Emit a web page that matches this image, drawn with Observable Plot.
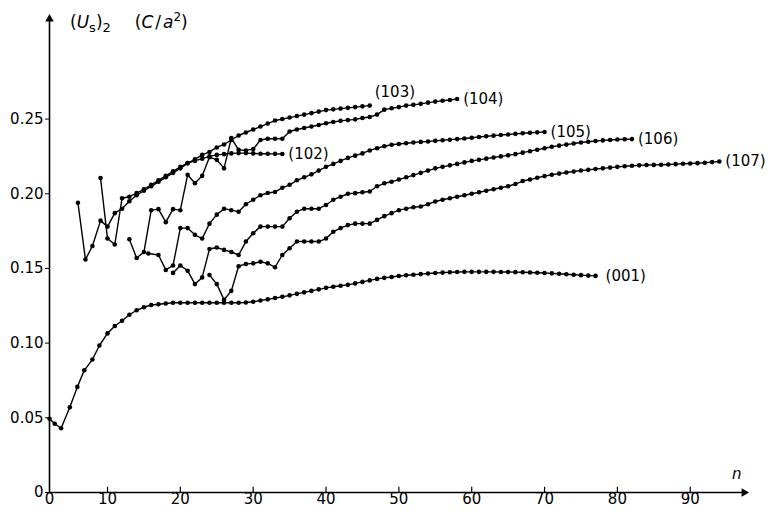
<!DOCTYPE html>
<html>
<head>
<meta charset="utf-8">
<script src="https://cdn.jsdelivr.net/npm/d3@7"></script>
<script src="https://cdn.jsdelivr.net/npm/@observablehq/plot@0.6"></script>
<style>
  html, body { margin: 0; padding: 0; background: #fff; }
  #chart svg { display: block; }
</style>
</head>
<body>
<div id="chart"></div>
<script>
// ---- data (n, (Us)2) ----
const s001 = [[0,0.0494],[0.9,0.046],[2,0.043],[3.5,0.057],[4.8,0.0707],[6,0.0818],[7.4,0.089],[8.6,0.0984],[10,0.1065],[11,0.1115],[12,0.115],[13,0.119],[14,0.122],[15,0.124],[16,0.1255],[17,0.126],[18,0.1265],[19,0.127],[20,0.127],[21,0.127],[22,0.127],[23,0.127],[24,0.127],[25,0.127],[26,0.127],[27,0.127],[28,0.127],[29,0.1272],[30,0.1277],[31,0.1285],[32,0.1293],[33,0.1302],[34,0.131],[35,0.132],[36,0.133],[37,0.134],[38,0.135],[39,0.136],[40,0.137],[41,0.1377],[42,0.1384],[43,0.139],[44,0.140],[45,0.141],[46,0.142],[47,0.143],[48,0.1437],[49,0.1443],[50,0.1449],[51,0.1454],[52,0.1458],[53,0.1462],[54,0.1466],[55,0.1469],[56,0.1472],[57,0.1474],[58,0.1476],[59,0.1477],[60,0.1477],[61,0.1477],[62,0.1477],[63,0.1477],[64,0.1476],[65,0.1476],[66,0.1475],[67,0.1474],[68,0.1473],[69,0.1471],[70,0.1469],[71,0.1467],[72,0.1464],[73,0.1461],[74,0.1458],[75,0.1455],[76,0.1452],[77,0.145]];
const s102 = [[4.9,0.194],[6.2,0.156],[7.4,0.165],[8.8,0.182],[10,0.178],[11,0.187],[12,0.190],[13,0.195],[14,0.199],[15,0.202],[16,0.205],[17,0.208],[18,0.211],[19,0.214],[20,0.217],[21,0.2205],[22,0.222],[23,0.2235],[24,0.225],[25,0.226],[26,0.2265],[27,0.227],[28,0.2272],[29,0.2272],[30,0.2270],[31,0.2268],[32,0.2268],[33,0.2267],[34,0.2266]];
const s103 = [[8.8,0.2105],[10,0.170],[11,0.166],[12,0.197],[13,0.198],[14,0.2005],[15,0.203],[16,0.206],[17,0.209],[18,0.212],[19,0.215],[20,0.218],[21,0.2205],[22,0.223],[23,0.226],[24,0.228],[25,0.231],[26,0.233],[27,0.236],[28,0.239],[29,0.241],[30,0.243],[31,0.245],[32,0.247],[33,0.249],[34,0.250],[35,0.251],[36,0.252],[37,0.253],[38,0.254],[39,0.255],[40,0.256],[41,0.2565],[42,0.257],[43,0.2575],[44,0.258],[45,0.2585],[46,0.259]];
const s104 = [[13,0.1695],[14,0.157],[15,0.161],[16,0.189],[17,0.1897],[18,0.181],[19,0.1897],[20,0.189],[21,0.2127],[22,0.207],[23,0.212],[24,0.2245],[25,0.2227],[26,0.217],[27,0.2373],[28,0.2294],[29,0.229],[30,0.2299],[31,0.236],[32,0.2368],[33,0.2368],[34,0.2368],[35,0.2417],[36,0.243],[37,0.244],[38,0.245],[39,0.246],[40,0.2472],[41,0.248],[42,0.2488],[43,0.2493],[44,0.2498],[45,0.2507],[46,0.2514],[47,0.253],[48,0.2563],[49,0.2572],[50,0.258],[51,0.259],[52,0.2595],[53,0.2602],[54,0.261],[55,0.2617],[56,0.2623],[57,0.2628],[58,0.2634]];
const s105 = [[15.6,0.160],[17,0.159],[18,0.149],[19,0.152],[20,0.177],[21,0.177],[22,0.1725],[23,0.170],[24,0.180],[25,0.186],[26,0.190],[27,0.189],[28,0.188],[29,0.193],[30,0.196],[31,0.199],[32,0.2005],[33,0.2012],[34,0.204],[35,0.206],[36,0.209],[37,0.211],[38,0.213],[39,0.2155],[40,0.218],[41,0.220],[42,0.222],[43,0.224],[44,0.2255],[45,0.227],[46,0.229],[47,0.2305],[48,0.2318],[49,0.2328],[50,0.2333],[51,0.2338],[52,0.2343],[53,0.2347],[54,0.235],[55,0.2354],[56,0.2358],[57,0.2362],[58,0.2366],[59,0.237],[60,0.2375],[61,0.238],[62,0.2385],[63,0.2389],[64,0.2393],[65,0.2397],[66,0.2401],[67,0.2405],[68,0.2408],[69,0.2411],[70,0.2413]];
const s106 = [[19,0.147],[20,0.152],[21,0.1485],[22,0.1395],[23,0.144],[24,0.163],[25,0.164],[26,0.1624],[27,0.161],[28,0.159],[29,0.168],[30,0.1736],[31,0.178],[32,0.178],[33,0.178],[34,0.178],[35,0.1836],[36,0.188],[37,0.190],[38,0.190],[39,0.190],[40,0.1925],[41,0.196],[42,0.198],[43,0.200],[44,0.2004],[45,0.201],[46,0.2015],[47,0.205],[48,0.207],[49,0.208],[50,0.2095],[51,0.211],[52,0.2125],[53,0.214],[54,0.2155],[55,0.217],[56,0.218],[57,0.219],[58,0.220],[59,0.221],[60,0.222],[61,0.2227],[62,0.2235],[63,0.2243],[64,0.225],[65,0.2257],[66,0.2265],[67,0.2275],[68,0.2285],[69,0.2295],[70,0.2305],[71,0.2315],[72,0.2322],[73,0.2329],[74,0.2336],[75,0.2343],[76,0.2348],[77,0.2353],[78,0.2357],[79,0.236],[80,0.2363],[81,0.2365],[82,0.2366]];
const s107 = [[24,0.1456],[25,0.1395],[26,0.129],[27,0.135],[28,0.1515],[29,0.153],[30,0.1534],[31,0.1545],[32,0.1534],[33,0.1508],[34,0.159],[35,0.1635],[36,0.168],[37,0.168],[38,0.168],[39,0.168],[40,0.170],[41,0.1746],[42,0.177],[43,0.179],[44,0.180],[45,0.180],[46,0.180],[47,0.1825],[48,0.185],[49,0.187],[50,0.189],[51,0.190],[52,0.191],[53,0.1915],[54,0.193],[55,0.1948],[56,0.196],[57,0.197],[58,0.198],[59,0.199],[60,0.200],[61,0.201],[62,0.202],[63,0.203],[64,0.204],[65,0.205],[66,0.2065],[67,0.2085],[68,0.2095],[69,0.2107],[70,0.2118],[71,0.2127],[72,0.2135],[73,0.2142],[74,0.2149],[75,0.2156],[76,0.216],[77,0.2166],[78,0.217],[79,0.2175],[80,0.218],[81,0.2184],[82,0.2187],[83,0.219],[84,0.2192],[85,0.2193],[86,0.2194],[87,0.2196],[88,0.2198],[89,0.2201],[90,0.2203],[91,0.2205],[92,0.2208],[93,0.2212],[94,0.2216]];

const seriesNames = ["001","102","103","104","105","106","107"];
const seriesData  = [s001, s102, s103, s104, s105, s106, s107];
const xTicks = [0,10,20,30,40,50,60,70,80,90];
const yTicks = [0,0.05,0.10,0.15,0.20,0.25];

// ---- build table ----
const rows = seriesNames.flatMap((name, i) => seriesData[i].map(([n, u]) => ({series: name, n, u})));
const ends = seriesNames.map((name, i) => {
  const d = seriesData[i][seriesData[i].length - 1];
  return {series: name, n: d[0], u: d[1], label: "(" + name + ")"};
});
const endsMain = ends.filter(d => d.series !== "103" && d.series !== "001");
const end103 = ends.filter(d => d.series === "103");
const end001 = ends.filter(d => d.series === "001");

const font = "'DejaVu Sans', sans-serif";

const chart = Plot.plot({
  width: 769,
  height: 510,
  marginLeft: 49,
  marginRight: 21,
  marginTop: 14,
  marginBottom: 18,
  style: {fontFamily: font, fontSize: "15px", background: "#fff", color: "#000", overflow: "visible"},
  x: {type: "linear", domain: [0, 10, 98], range: [49, 107, 748]},
  y: {type: "linear", domain: [0, 0.32], range: [492, 14]},
  marks: [
    Plot.axisY({ticks: yTicks, tickSize: 4, tickPadding: 2, label: null,
      tickFormat: d => d === 0 ? "0" : d.toFixed(2), fontSize: 15}),
    Plot.axisX({ticks: xTicks, tickSize: 0, tickPadding: 1, label: null,
      tickFormat: d => String(d), fontSize: 15}),
    Plot.ruleX(xTicks.filter(d => d > 0), {x: d => d, y1: 0, y2: 0.0035, stroke: "#000", strokeWidth: 1.2}),
    // axis lines with arrow heads
    Plot.ruleX([0], {x: d => d, y1: 0, y2: 0.316, stroke: "#000", strokeWidth: 1.6}),
    Plot.ruleY([0], {y: d => d, x1: 0, x2: 97.4, stroke: "#000", strokeWidth: 1.6}),
    Plot.dot([0], {x: d => d, y: 0.317, symbol: "triangle", r: 3.2, fill: "#000", stroke: "none"}),
    Plot.dot([0], {x: 97.4, y: d => d, symbol: "triangle", rotate: 90, r: 3.2, fill: "#000", stroke: "none"}),
    // series
    Plot.line(rows, {x: "n", y: "u", z: "series", stroke: "#000", strokeWidth: 1.4}),
    Plot.dot(rows, {x: "n", y: "u", r: 2.3, fill: "#000", stroke: "none"}),
    // series labels
    Plot.text(endsMain, {x: "n", y: "u", text: "label", textAnchor: "start", dx: 6, fontSize: 15}),
    Plot.text(end103, {x: "n", y: "u", text: "label", textAnchor: "start", dx: 5, dy: -13, fontSize: 15}),
    Plot.text(end001, {x: "n", y: "u", text: "label", textAnchor: "start", dx: 10, fontSize: 15}),
    // axis name n
    Plot.text(["n"], {frameAnchor: "bottom-right", text: d => d, dx: -7, dy: -14, fontStyle: "italic", fontSize: 15})
  ]
});

// y-axis title with sub/superscripts
const svg = d3.select(chart);
const t = svg.append("text")
  .attr("x", 70).attr("y", 28)
  .attr("text-anchor", "start")
  .attr("font-family", font).attr("font-size", 17).attr("fill", "#000");
t.append("tspan").text("(");
t.append("tspan").attr("font-style", "italic").text("U");
t.append("tspan").attr("font-size", 13).attr("dy", 4).text("s");
t.append("tspan").attr("dy", -4).text(")");
t.append("tspan").attr("font-size", 13).attr("dy", 4).text("2");
t.append("tspan").attr("dy", -4).attr("dx", 24).text("(");
t.append("tspan").attr("font-style", "italic").text("C");
t.append("tspan").attr("dx", 2).text("/");
t.append("tspan").attr("dx", 2).attr("font-style", "italic").text("a");
t.append("tspan").attr("font-size", 12).attr("dy", -7).text("2");
t.append("tspan").attr("dy", 7).text(")");

document.getElementById("chart").appendChild(chart);
</script>
</body>
</html>
